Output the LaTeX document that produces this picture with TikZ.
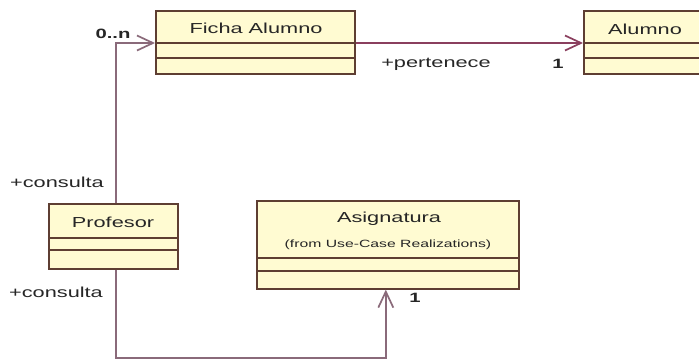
\documentclass[tikz,border=0pt]{standalone}
\usepackage{fontspec}
\setmainfont{Liberation Sans}
\newfontfamily\umlfont[FakeStretch=1.5]{Liberation Sans}
\usetikzlibrary{arrows.meta,calc}
\definecolor{classfill}{HTML}{FFFBD2}
\definecolor{classline}{HTML}{5E3E32}
\definecolor{assocline}{HTML}{8A3F5E}
\definecolor{assocgray}{HTML}{8A6A7A}
\definecolor{labeltext}{HTML}{262626}

\begin{document}
\begin{tikzpicture}[x=1pt,y=-1pt,
  classbox/.style={draw=classline, fill=classfill, line width=1.6pt, anchor=north west, inner sep=0pt},
  sep/.style={draw=classline, line width=1.6pt},
  cname/.style={font=\umlfont\fontsize{14.5}{16}\selectfont, text=labeltext, inner sep=0pt},
  csub/.style={font=\umlfont\fontsize{10.5}{12}\selectfont, text=labeltext, inner sep=0pt},
  role/.style={font=\umlfont\fontsize{14.5}{16}\selectfont, text=labeltext, inner sep=0pt},
  mult/.style={font=\umlfont\bfseries\fontsize{13.5}{15}\selectfont, text=labeltext, inner sep=0pt},
  assoc/.style={draw=assocline, line width=1.7pt},
  assocg/.style={draw=assocgray, line width=1.7pt},
  nav/.style={-{Straight Barb[length=16pt,width=15pt,line width=1.7pt]}}
]
\fill[white] (0,0) rectangle (699,362);
\useasboundingbox (0,0) rectangle (699,362);

% classes
\node[classbox, minimum width=199pt, minimum height=63pt] (ficha) at (155,10) {};
\draw[sep] ([yshift=-33pt]ficha.north west) -- ([yshift=-33pt]ficha.north east);
\draw[sep] ([yshift=-48pt]ficha.north west) -- ([yshift=-48pt]ficha.north east);
\node[cname] (fichaname) at (256,28) {Ficha Alumno};

\node[classbox, minimum width=140pt, minimum height=63pt] (alumno) at (583,10) {};
\draw[sep] ([yshift=-33pt]alumno.north west) -- ([yshift=-33pt]alumno.north east);
\draw[sep] ([yshift=-48pt]alumno.north west) -- ([yshift=-48pt]alumno.north east);
\node[cname] (alumnoname) at (645,29) {Alumno};

\node[classbox, minimum width=129pt, minimum height=65pt] (prof) at (48,203) {};
\draw[sep] ([yshift=-35pt]prof.north west) -- ([yshift=-35pt]prof.north east);
\draw[sep] ([yshift=-47pt]prof.north west) -- ([yshift=-47pt]prof.north east);
\node[cname] (profname) at (113,222) {Profesor};

\node[classbox, minimum width=262pt, minimum height=88pt] (asig) at (256,200) {};
\draw[sep] ([yshift=-58pt]asig.north west) -- ([yshift=-58pt]asig.north east);
\draw[sep] ([yshift=-71pt]asig.north west) -- ([yshift=-71pt]asig.north east);
\node[cname] (asigname) at (389,219) {Asignatura};
\node[csub] (asigsub) at (388,245) {(from Use-Case Realizations)};

% associations
\draw[assoc, nav] ([yshift=-33pt]ficha.north east) -- ([yshift=-33pt]alumno.north west);
\draw[assocg, nav] ([xshift=2.5pt]prof.north) |- ([yshift=-33pt]ficha.north west);
\coordinate (bottomrun) at (250,358);
\draw[assocg, nav] ([xshift=3pt]prof.south) |- (bottomrun) -| ([xshift=-2pt]asig.south);

% roles and multiplicities
\node[role] (pertenece) at (436,64) {+pertenece};
\node[mult] (multalumno) at (558,64) {1};
\node[mult] (multficha) at (113,34) {0..n};
\node[role] (consultaup) at (57,182) {+consulta};
\node[role] (consultadown) at (56,292) {+consulta};
\node[mult] (multasig) at (415,298) {1};
\end{tikzpicture}
\end{document}
